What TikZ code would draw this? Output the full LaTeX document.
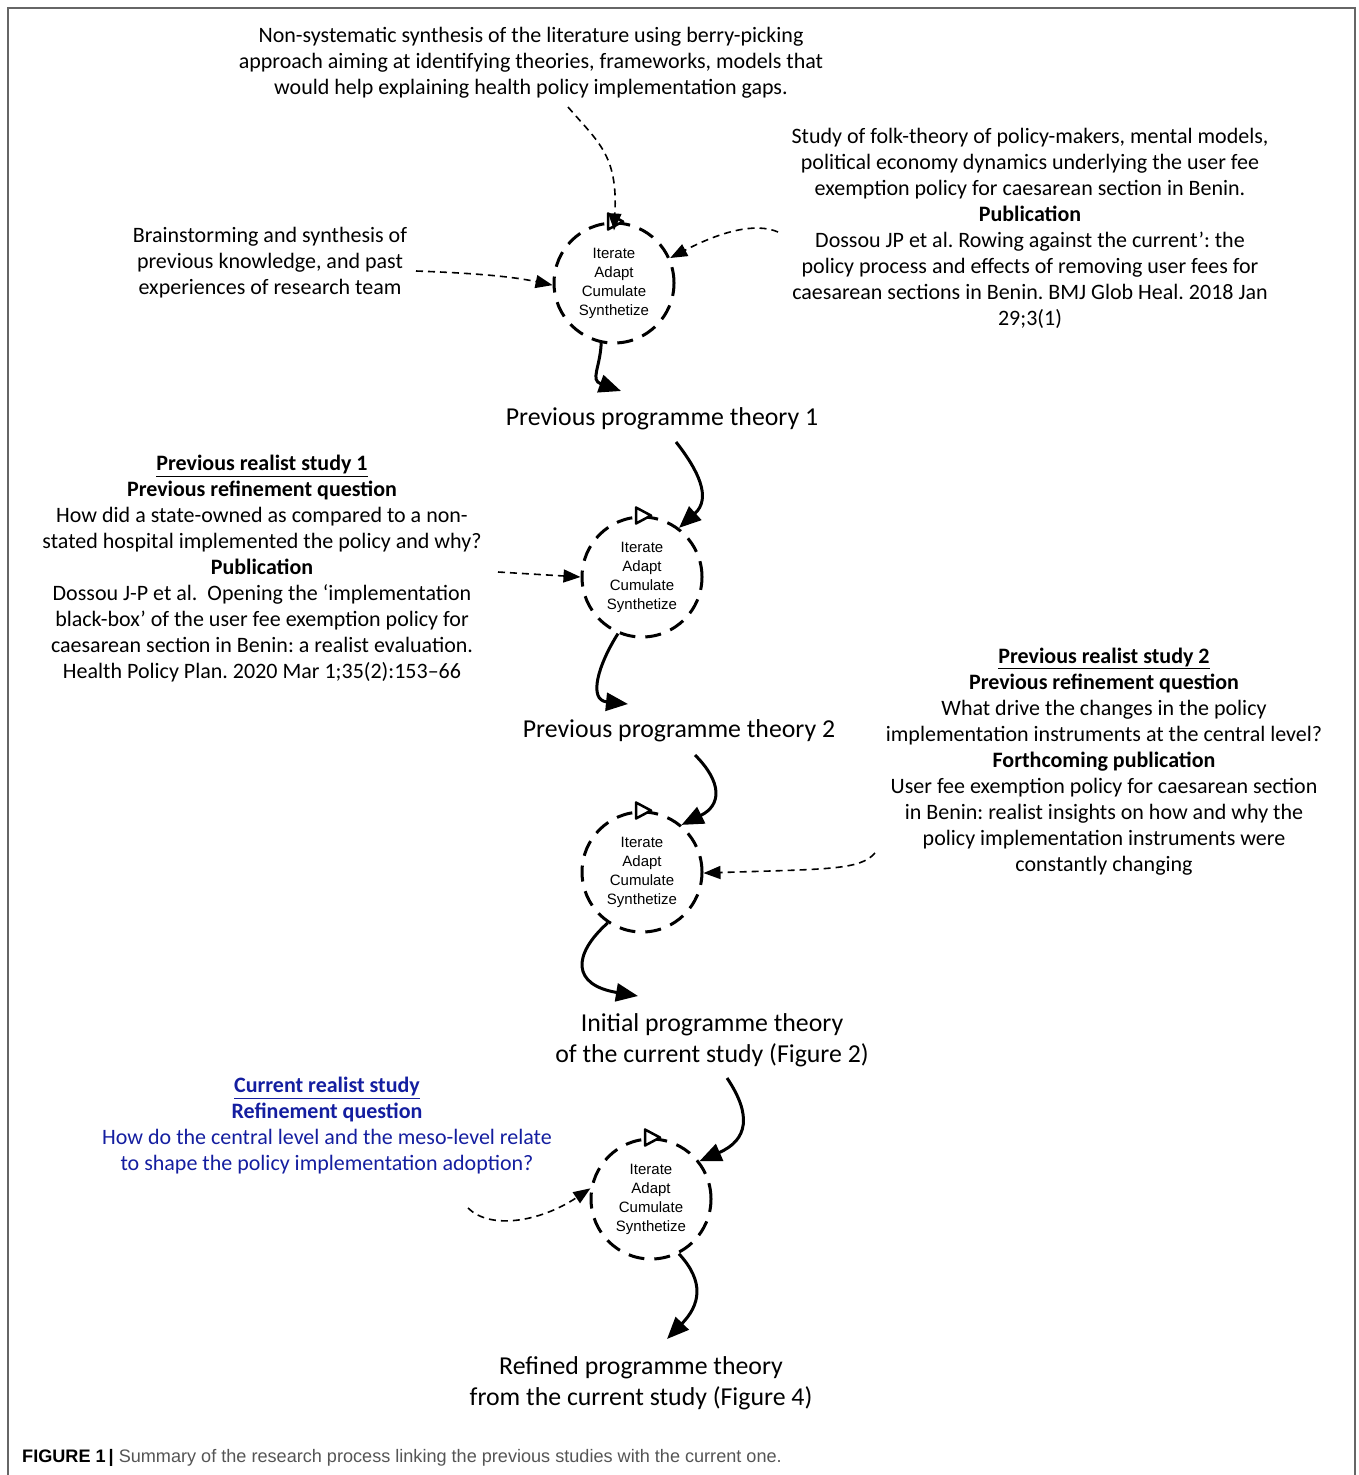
\documentclass[tikz,border=0pt]{standalone}
\usepackage{fontspec}
\setmainfont{Carlito}
\newfontfamily\helv{Liberation Sans}
\usetikzlibrary{arrows.meta}
\definecolor{navytext}{RGB}{20,30,160}
\definecolor{capgray}{RGB}{85,85,85}
\frenchspacing
\begin{document}
\begin{tikzpicture}[x=1pt,y=-1pt,
  body/.style={align=center,inner sep=0pt,font=\fontsize{22}{26}\selectfont},
  theory/.style={align=center,inner sep=0pt,font=\fontsize{25.8}{31}\selectfont},
  cyc/.style={circle,draw,line width=3pt,dash pattern=on 16pt off 10pt,minimum size=120pt,inner sep=0pt,align=center,font=\helv\fontsize{15}{19}\selectfont},
  solidarrow/.style={line width=3pt,-{Triangle[length=22pt,width=18pt]}},
  dasharrow/.style={line width=1.6pt,dash pattern=on 7pt off 5pt,-{Triangle[length=17pt,width=13pt]}},
  dirmark/.style={line width=2.5pt,fill=white,line join=round}
]
\useasboundingbox (0,0) rectangle (1358,1475);
% frame
\draw[line width=2pt,gray!80!black] (8,1475) -- (8,8) -- (1355,8) -- (1355,1475);

% circles
\node[cyc] (c1) at (614,283) {Iterate\\Adapt\\Cumulate\\Synthetize};
\node[cyc] (c2) at (642,577) {Iterate\\Adapt\\Cumulate\\Synthetize};
\node[cyc] (c3) at (642,872) {Iterate\\Adapt\\Cumulate\\Synthetize};
\node[cyc] (c4) at (651,1199) {Iterate\\Adapt\\Cumulate\\Synthetize};
\foreach \c in {c1,c2,c3,c4}{
  \draw[dirmark] ([shift={(-6,-8)}]\c.north) -- ++(15,8) -- ++(-15,8) -- cycle;
}

% texts
\node[body] (t1) at (531,63) {Non-systematic synthesis of the literature using berry-picking\\approach aiming at identifying theories, frameworks, models that\\would help explaining health policy implementation gaps.};
\node[body] (t2) at (270,263) {Brainstorming and synthesis of\\previous knowledge, and past\\experiences of research team};
\node[body] (t3) at (1030,228) {Study of folk-theory of policy-makers, mental models,\\political economy dynamics underlying the user fee\\exemption policy for caesarean section in Benin.\\\textbf{Publication}\\Dossou JP et al. Rowing against the current': the\\policy process and effects of removing user fees for\\caesarean sections in Benin. BMJ Glob Heal. 2018 Jan\\29;3(1)};
\node[theory] (p1) at (662,419) {Previous programme theory 1};
\node[body] (s1) at (262,569) {\textbf{\underline{Previous realist study 1}}\\\textbf{Previous refinement question}\\How did a state-owned as compared to a non-\\stated hospital implemented the policy and why?\\\textbf{Publication}\\Dossou J-P et al.\ \ Opening the ‘implementation\\black-box’ of the user fee exemption policy for\\caesarean section in Benin: a realist evaluation.\\Health Policy Plan. 2020 Mar 1;35(2):153–66};
\node[theory] (p2) at (679,731) {Previous programme theory 2};
\node[body] (s2) at (1104,762) {\textbf{\underline{Previous realist study 2}}\\\textbf{Previous refinement question}\\What drive the changes in the policy\\implementation instruments at the central level?\\\textbf{Forthcoming publication}\\User fee exemption policy for caesarean section\\in Benin: realist insights on how and why the\\policy implementation instruments were\\constantly changing};
\node[theory] (p3) at (712,1040) {Initial programme theory\\of the current study (Figure 2)};
\node[body,text=navytext] (s3) at (327,1126) {\textbf{\underline{Current realist study}}\\\textbf{Refinement question}\\How do the central level and the meso-level relate\\to shape the policy implementation adoption?};
\node[theory] (p4) at (641,1383) {Refined programme theory\\from the current study (Figure 4)};

% caption
\node[anchor=west,inner sep=0pt,font=\helv\fontsize{18.1}{20}\selectfont] (cap) at (22,1458) {\textbf{FIGURE 1}\,\textbf{|} \textcolor{capgray}{Summary of the research process linking the previous studies with the current one.}};

% free ends
\coordinate (t1e) at (568,107);
\coordinate (t2e) at (416,271);
\coordinate (t3e) at (778,232);
\coordinate (p1n) at (676,442);
\coordinate (p1s) at (621,391);
\coordinate (s1e) at (498,572);
\coordinate (p2n) at (695,755);
\coordinate (p2s) at (628,704);
\coordinate (s2e) at (875,853);
\coordinate (p3n) at (727,1078);
\coordinate (p3s) at (638,996);
\coordinate (s3e) at (468,1208);
\coordinate (p4n) at (667,1339);

% connectors circle 1
\draw[dasharrow] (t1e) .. controls (598,142) and (618,155) .. ([yshift=-9]c1.north);
\draw[dasharrow] (t2e) .. controls (470,273) and (510,276) .. (c1.182);
\draw[dasharrow] (t3e) .. controls (755,222) and (720,232) .. (c1.24);
\draw[solidarrow] (c1.-102) .. controls (600,368) and (590,380) .. (p1s);
% circle 2
\draw[solidarrow] (p1n) .. controls (698,470) and (712,498) .. (c2.53);
\draw[dasharrow] (s1e) -- (c2.180);
\draw[solidarrow] (c2.-113) .. controls (598,665) and (588,700) .. (p2s);
% circle 3
\draw[solidarrow] (p2n) .. controls (722,782) and (722,805) .. (c3.50);
\draw[dasharrow] (s2e) .. controls (860,870) and (830,869) .. (c3.-1);
\draw[solidarrow] (c3.-124) .. controls (572,955) and (572,985) .. (p3s);
% circle 4
\draw[solidarrow] (p3n) .. controls (752,1115) and (748,1140) .. (c4.38);
\draw[dasharrow] (s3e) .. controls (490,1230) and (540,1222) .. (c4.170);
\draw[solidarrow] (c4.-63) .. controls (705,1282) and (700,1305) .. (p4n);
\end{tikzpicture}
\end{document}
